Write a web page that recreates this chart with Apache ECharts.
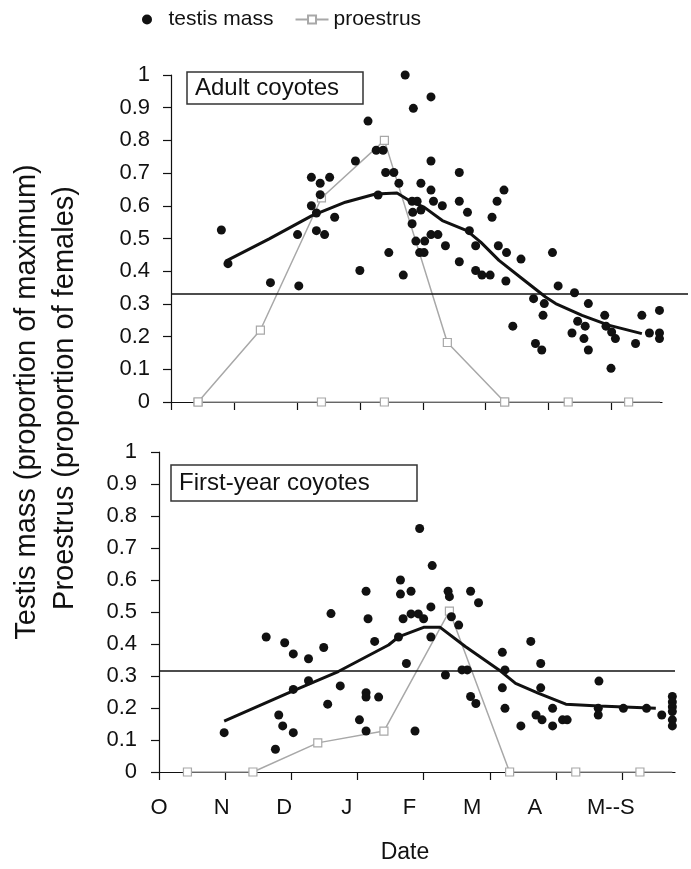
<!DOCTYPE html>
<html>
<head>
<meta charset="utf-8">
<title>Testis mass and proestrus</title>
<script src="https://cdn.jsdelivr.net/npm/echarts@6.0.0/dist/echarts.min.js"></script>
<style>
	html, body { margin: 0; padding: 0; background: #fff; }
	#chart { width: 691px; height: 869px; }
</style>
</head>
<body>
<div id="chart"></div>
<script>
// months since 1 October (O = 0 ... M = 7)
var monthTicks = [0, 1, 2, 3, 4, 5, 6, 7];
var monthLabels = ['O', 'N', 'D', 'J', 'F', 'M', 'A', 'M--S'];
var xMax = 7.8;

// adult coyotes: [month, testis mass]
var adultMass = [
	[0.80, 0.526], [0.905, 0.423], [1.58, 0.365], [2.03, 0.355], [2.01, 0.512], [2.23, 0.687],
	[2.37, 0.669], [2.52, 0.687], [2.37, 0.634], [2.23, 0.60], [2.31, 0.578], [2.31, 0.524],
	[2.44, 0.512], [2.60, 0.565], [2.93, 0.737], [3.0, 0.402], [3.13, 0.859], [3.26, 0.770],
	[3.37, 0.770], [3.29, 0.633], [3.41, 0.702], [3.54, 0.702], [3.62, 0.669], [3.46, 0.457],
	[3.69, 0.388], [3.72, 1.0], [3.85, 0.898], [4.13, 0.933], [4.13, 0.737], [3.97, 0.669],
	[4.13, 0.648], [3.83, 0.614], [3.91, 0.614], [3.84, 0.58], [3.97, 0.587], [3.83, 0.545],
	[3.89, 0.492], [4.03, 0.492], [3.95, 0.457], [4.02, 0.457], [4.17, 0.614], [4.31, 0.60],
	[4.13, 0.512], [4.24, 0.512], [4.36, 0.478], [4.58, 0.702], [4.58, 0.614], [4.71, 0.58],
	[4.74, 0.524], [4.84, 0.478], [4.58, 0.429], [4.84, 0.402], [4.94, 0.388], [5.07, 0.388],
	[5.10, 0.565], [5.18, 0.614], [5.29, 0.648], [5.20, 0.478], [5.33, 0.457], [5.32, 0.37],
	[5.56, 0.437], [5.43, 0.232], [5.76, 0.316], [5.93, 0.301], [5.91, 0.265], [5.79, 0.179],
	[5.89, 0.159], [6.06, 0.457], [6.15, 0.355], [6.41, 0.334], [6.63, 0.301], [6.46, 0.247],
	[6.58, 0.232], [6.37, 0.211], [6.56, 0.194], [6.63, 0.159], [6.89, 0.265], [6.91, 0.232],
	[7.0, 0.214], [7.06, 0.194], [6.99, 0.103], [7.38, 0.179], [7.48, 0.265], [7.60, 0.211],
	[7.76, 0.28], [7.76, 0.211], [7.76, 0.194]
];
var adultTrend = [
	[0.87, 0.431], [1.56, 0.499], [2.24, 0.57], [2.77, 0.611], [3.25, 0.636], [3.59, 0.639],
	[3.83, 0.611], [4.02, 0.596], [4.31, 0.555], [4.70, 0.524], [4.92, 0.489], [5.21, 0.433],
	[5.58, 0.377], [5.95, 0.321], [6.11, 0.301], [6.53, 0.265], [6.95, 0.235], [7.48, 0.209]
];
var adultProestrus = [[0.43, 0], [1.42, 0.22], [2.39, 0.624], [3.39, 0.80], [4.39, 0.182], [5.30, 0], [6.31, 0], [7.27, 0]];
var adultProestrusZero = [[0.43, 0], [2.39, 0], [3.39, 0], [5.30, 0]];
var adultLineEnd = 7.77;
var adultThreshold = 0.33;

// first-year coyotes
var firstMass = [
	[0.985, 0.123], [1.62, 0.422], [1.90, 0.404], [2.03, 0.369], [2.26, 0.354], [2.26, 0.285],
	[2.03, 0.258], [1.81, 0.178], [1.87, 0.144], [2.03, 0.123], [1.76, 0.071], [2.49, 0.389],
	[2.60, 0.495], [2.55, 0.212], [2.74, 0.269], [3.13, 0.565], [3.16, 0.479], [3.26, 0.408],
	[3.13, 0.248], [3.13, 0.234], [3.32, 0.234], [3.03, 0.163], [3.13, 0.128], [3.65, 0.60],
	[3.65, 0.556], [3.81, 0.565], [3.69, 0.479], [3.81, 0.494], [3.92, 0.494], [4.0, 0.479],
	[4.11, 0.516], [3.62, 0.422], [4.11, 0.422], [3.74, 0.339], [3.87, 0.128], [3.94, 0.761],
	[4.13, 0.645], [4.37, 0.565], [4.39, 0.548], [4.42, 0.485], [4.53, 0.459], [4.71, 0.565],
	[4.83, 0.529], [4.33, 0.303], [4.58, 0.319], [4.66, 0.319], [4.71, 0.236], [4.79, 0.214],
	[5.19, 0.374], [5.23, 0.319], [5.19, 0.263], [5.23, 0.199], [5.47, 0.144], [5.62, 0.408],
	[5.77, 0.339], [5.77, 0.263], [5.70, 0.178], [5.79, 0.163], [5.95, 0.199], [5.95, 0.144],
	[6.10, 0.163], [6.17, 0.163], [6.65, 0.284], [6.64, 0.199], [6.64, 0.178], [7.02, 0.199],
	[7.37, 0.199], [7.60, 0.178], [7.76, 0.236], [7.76, 0.219], [7.76, 0.204], [7.76, 0.189],
	[7.76, 0.163], [7.76, 0.144]
];
var firstTrend = [
	[0.985, 0.159], [2.0, 0.251], [2.71, 0.314], [3.47, 0.397], [3.62, 0.422], [4.0, 0.452],
	[4.25, 0.452], [4.63, 0.392], [5.14, 0.319], [5.39, 0.277], [5.74, 0.246], [6.15, 0.212],
	[6.65, 0.206], [7.51, 0.199]
];
var firstProestrus = [[0.43, 0], [1.42, 0], [2.40, 0.091], [3.40, 0.128], [4.39, 0.503], [5.30, 0], [6.30, 0], [7.27, 0]];
var firstLineEnd = 7.76;
var firstThreshold = 0.317;

var font = 'Liberation Sans, Arial, sans-serif';
var ink = '#111';
var grey = '#a8a8a8';

// grey line runs on along zero past the last square
function withEnd(points, endX) {
	var out = points.slice();
	out.push({ value: [endX, 0], symbol: 'none' });
	return out;
}

function xAxisFor(gridIndex) {
	return {
		type: 'value', gridIndex: gridIndex, position: 'bottom', min: 0, max: xMax,
		axisLine: { show: true, onZero: false, lineStyle: { color: ink, width: 1.2 } },
		axisTick: { show: true, length: 8, customValues: monthTicks, lineStyle: { color: ink, width: 1.2 } },
		axisLabel: { show: false },
		splitLine: { show: false }
	};
}
function yAxisFor(gridIndex, margin) {
	return {
		type: 'value', gridIndex: gridIndex, min: 0, max: 1, interval: 0.1,
		axisLine: { show: true, lineStyle: { color: ink, width: 1.2 } },
		axisTick: { show: true, length: 8, lineStyle: { color: ink, width: 1.2 } },
		axisLabel: { color: ink, fontSize: 22, fontFamily: font, margin: margin },
		splitLine: { show: false }
	};
}
function massSeries(idx, data) {
	return {
		name: 'testis mass', type: 'scatter', xAxisIndex: idx, yAxisIndex: idx,
		symbol: 'circle', symbolSize: 9, itemStyle: { color: ink, opacity: 1 }, data: data, z: 4
	};
}
function trendSeries(idx, data) {
	return {
		name: 'trend', type: 'line', xAxisIndex: idx, yAxisIndex: idx, symbol: 'none',
		lineStyle: { color: ink, width: 3 }, data: data, z: 5
	};
}
function proSeries(idx, data) {
	return {
		name: 'proestrus', type: 'line', xAxisIndex: idx, yAxisIndex: idx,
		symbol: 'rect', symbolSize: 8, showAllSymbol: true,
		lineStyle: { color: grey, width: 1.5 },
		itemStyle: { color: '#fff', borderColor: grey, borderWidth: 1.2 },
		data: data, z: 3
	};
}

var myChart = echarts.init(document.getElementById('chart'), null, { renderer: 'canvas' });
var option = {
	backgroundColor: '#fff',
	animation: false,
	textStyle: { fontFamily: font },
	legend: {
		left: 137, top: 4, itemWidth: 33, itemHeight: 10, itemGap: 21,
		textStyle: { fontSize: 21, color: ink, fontFamily: font },
		data: ['testis mass', 'proestrus']
	},
	title: [
		{
			text: 'Adult coyotes', left: 187, top: 72, padding: [4, 24, 4, 8],
			borderColor: '#333', borderWidth: 1.5, backgroundColor: '#fff',
			textStyle: { fontSize: 24, fontWeight: 'normal', color: ink, fontFamily: font }
		},
		{
			text: 'First-year coyotes', left: 171, top: 465, padding: [6, 48, 6, 8],
			borderColor: '#333', borderWidth: 1.5, backgroundColor: '#fff',
			textStyle: { fontSize: 24, fontWeight: 'normal', color: ink, fontFamily: font }
		}
	],
	grid: [
		{ left: 171, top: 75, width: 491, height: 327, containLabel: false },
		{ left: 159, top: 452, width: 516, height: 320, containLabel: false }
	],
	xAxis: [
		xAxisFor(0),
		xAxisFor(1),
		{
			// month letters, typed a little tighter than the ticks
			type: 'value', gridIndex: 1, position: 'bottom', offset: 0, min: 0, max: 8.24,
			axisLine: { show: false }, axisTick: { show: false }, splitLine: { show: false },
			axisLabel: {
				customValues: monthTicks, margin: 25, color: ink, fontSize: 22, fontFamily: font,
				formatter: function (v) {
					var s = monthLabels[Math.round(v)] || '';
					return Math.round(v) === 7 ? '{s|' + s + '}' : s;
				},
				rich: { s: { fontSize: 22, fontFamily: font, color: ink, padding: [0, 0, 0, 27] } }
			}
		}
	],
	yAxis: [yAxisFor(0, 21), yAxisFor(1, 22)],
	graphic: [
		{
			type: 'text', x: 27, y: 402, rotation: Math.PI / 2,
			style: { text: 'Testis mass (proportion of maximum)', fontSize: 29, fontFamily: font, fill: ink, align: 'center', verticalAlign: 'middle' }
		},
		{
			type: 'text', x: 65, y: 398, rotation: Math.PI / 2,
			style: { text: 'Proestrus (proportion of females)', fontSize: 29, fontFamily: font, fill: ink, align: 'center', verticalAlign: 'middle' }
		},
		{
			type: 'text', x: 405, y: 853,
			style: { text: 'Date', fontSize: 23, fontFamily: font, fill: ink, align: 'center', verticalAlign: 'middle' }
		}
	],
	series: [
		proSeries(0, withEnd(adultProestrus, adultLineEnd)),
		proSeries(0, adultProestrusZero),
		massSeries(0, adultMass),
		{
			name: 'threshold', type: 'line', xAxisIndex: 0, yAxisIndex: 0, data: [], clip: false,
			markLine: {
				silent: true, symbol: 'none', label: { show: false },
				lineStyle: { color: ink, width: 1.5, type: 'solid' },
				data: [[{ xAxis: 0, yAxis: adultThreshold }, { x: 688, yAxis: adultThreshold }]]
			}
		},
		trendSeries(0, adultTrend),
		proSeries(1, withEnd(firstProestrus, firstLineEnd)),
		massSeries(1, firstMass),
		{
			name: 'threshold', type: 'line', xAxisIndex: 1, yAxisIndex: 1, data: [],
			markLine: {
				silent: true, symbol: 'none', label: { show: false },
				lineStyle: { color: ink, width: 1.5, type: 'solid' },
				data: [[{ xAxis: 0, yAxis: firstThreshold }, { xAxis: xMax, yAxis: firstThreshold }]]
			}
		},
		trendSeries(1, firstTrend)
	]
};
myChart.setOption(option);
</script>
</body>
</html>
